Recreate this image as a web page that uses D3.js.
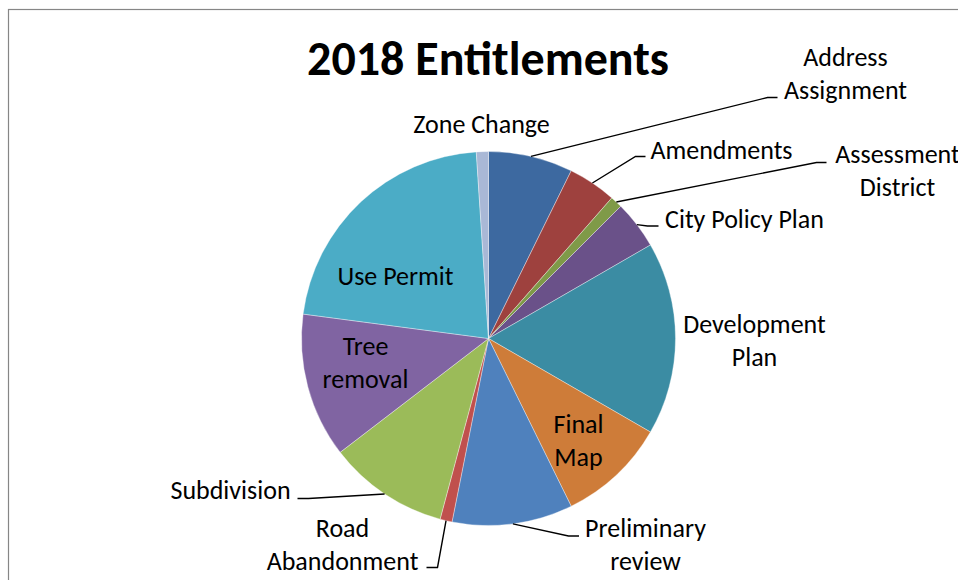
<!DOCTYPE html>
<html>
<head>
<meta charset="utf-8">
<script src="https://cdn.jsdelivr.net/npm/d3@7"></script>
<style>
	body { margin: 0; background: #fff; }
	svg { display: block; }
	text { font-family: Carlito, Calibri, Lato, sans-serif; fill: #000; }
</style>
</head>
<body>
<svg width="958" height="580"></svg>
<script>
// entitlement counts, 2018 (clockwise from 12 o'clock)
const categories = ["Address Assignment", "Amendments", "Assessment District", "City Policy Plan",
	"Development Plan", "Final Map", "Preliminary review", "Road Abandonment",
	"Subdivision", "Tree removal", "Use Permit", "Zone Change"];
const counts = [7, 4, 1, 4, 16, 9, 10, 1, 10, 12, 21, 1];
const colors = ["#3D69A0", "#9E413E", "#7F9A48", "#6A5189", "#3B8CA3", "#CE7C39",
	"#4F81BD", "#C0504D", "#9BBB59", "#8064A2", "#4BACC6", "#A9B8D6"];
const labelLines = [["Address", "Assignment"], ["Amendments"], ["Assessment", "District"], ["City Policy Plan"],
	["Development", "Plan"], ["Final", "Map"], ["Preliminary", "review"], ["Road", "Abandonment"],
	["Subdivision"], ["Tree", "removal"], ["Use Permit"], ["Zone Change"]];

var svg = d3.select("svg"),
	cx = 488.5,
	cy = 338.5,
	radius = 187;

// label placement, offsets from pie centre: text centre x, first baseline y,
// and the leader elbow / end (null = no leader line)
var labelPos = [
	{ x: 357, y: -273, elbow: [279, -241], end: [289, -241] },
	{ x: 233, y: -180, elbow: [147, -182], end: [157, -182] },
	{ x: 409, y: -176, elbow: [328, -176], end: [338, -176] },
	{ x: 256, y: -111, elbow: [159, -112.5], end: [170, -112.5] },
	{ x: 266, y: -6, elbow: null },
	{ x: 90, y: 94, elbow: null },
	{ x: 157, y: 198, elbow: [80, 197.5], end: [90.5, 197.5] },
	{ x: -146, y: 198, elbow: [-51, 229], end: [-62, 229] },
	{ x: -258, y: 160, elbow: [-180, 160], end: [-191, 160] },
	{ x: -123, y: 16, elbow: null },
	{ x: -93, y: -54, elbow: null },
	{ x: -7, y: -206, elbow: null }
];

var data = categories.map(function(d, i) {
	return { name: d, value: counts[i], color: colors[i], lines: labelLines[i], pos: labelPos[i] };
});

// chart frame (only the top and left edges fall inside the window)
svg.append("rect")
	.attr("x", 8.5)
	.attr("y", 9.5)
	.attr("width", 1200)
	.attr("height", 1200)
	.attr("fill", "none")
	.attr("stroke", "#868686")
	.attr("stroke-width", 1.2);

svg.append("text")
	.attr("x", 488)
	.attr("y", 75)
	.attr("text-anchor", "middle")
	.style("font-size", "48px")
	.style("font-weight", "bold")
	.text("2018 Entitlements");

var pie = d3.pie()
	.sort(null)
	.value(function(d) { return d.value; });

var arc = d3.arc()
	.innerRadius(0)
	.outerRadius(radius);

var arcs = pie(data);

var g = svg.append("g")
	.attr("transform", "translate(" + cx + "," + cy + ")");

g.selectAll("path.slice")
	.data(arcs)
	.enter().append("path")
	.attr("class", "slice")
	.attr("d", arc)
	.attr("fill", function(d) { return d.data.color; })
	.attr("stroke", "#ffffff")
	.attr("stroke-opacity", 0.6)
	.attr("stroke-width", 0.6);

// leader lines start on the rim at each slice's mid angle
g.selectAll("polyline.leader")
	.data(arcs.filter(function(d) { return d.data.pos.elbow; }))
	.enter().append("polyline")
	.attr("class", "leader")
	.attr("fill", "none")
	.attr("stroke", "#000")
	.attr("stroke-width", 1.4)
	.attr("points", function(d) {
		var a = (d.startAngle + d.endAngle) / 2;
		var start = [radius * Math.sin(a), -radius * Math.cos(a)];
		return [start, d.data.pos.elbow, d.data.pos.end].map(function(p) { return p.join(","); }).join(" ");
	});

var labels = g.selectAll("text.label")
	.data(arcs)
	.enter().append("text")
	.attr("class", "label")
	.attr("text-anchor", "middle")
	.style("font-size", "26px")
	.attr("x", function(d) { return d.data.pos.x; })
	.attr("y", function(d) { return d.data.pos.y; });

labels.selectAll("tspan")
	.data(function(d) { return d.data.lines.map(function(l) { return { text: l, x: d.data.pos.x }; }); })
	.enter().append("tspan")
	.attr("x", function(d) { return d.x; })
	.attr("dy", function(d, i) { return i === 0 ? 0 : 33; })
	.text(function(d) { return d.text; });
</script>
</body>
</html>
